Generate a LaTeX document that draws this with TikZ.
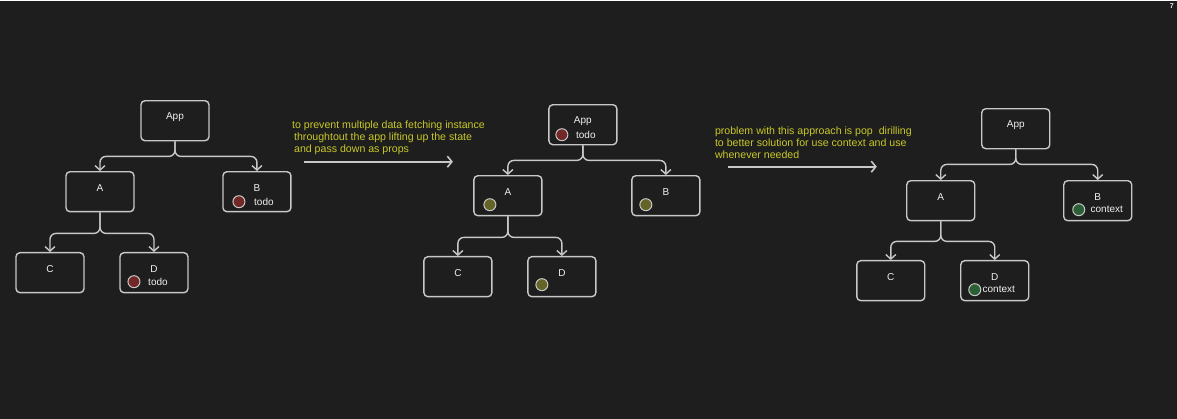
\documentclass[tikz,border=0pt]{standalone}
\usepackage{fontspec}
\setmainfont{Liberation Sans}
\usetikzlibrary{arrows.meta}
\usetikzlibrary{calc}
\definecolor{bg}{RGB}{30,30,30}
\definecolor{edge}{RGB}{200,200,200}
\definecolor{ink}{RGB}{240,240,240}
\definecolor{note}{RGB}{200,200,40}
\definecolor{todored}{RGB}{115,40,40}
\definecolor{olive}{RGB}{100,100,40}
\definecolor{ctxgreen}{RGB}{45,95,55}
\tikzstyle{line} = [draw=edge, line width=1.4pt, rounded corners=6pt, -{Straight Barb[length=4.5pt,width=10pt]}]

\begin{document}
\begin{tikzpicture}[x=1pt, y=-1pt,
		box/.style = {draw=edge, fill=bg, line width=1.4pt,
			rounded corners=4pt, minimum width=68pt, minimum height=40pt},
		lbl/.style = {text=ink, font=\fontsize{10}{12}\selectfont, inner sep=0pt},
		dot/.style = {circle, draw=edge, line width=1pt, minimum size=12pt, inner sep=0pt},
		remark/.style = {text=note, font=\fontsize{10.6}{12}\selectfont, align=left, inner sep=0pt},
		move/.style = {draw=edge, line width=1.6pt, -{Straight Barb[length=4.5pt,width=11pt]}}]
	
	% background
	\fill[bg] (0,0) rectangle (1177,418);
	\node[text=ink, font=\bfseries\fontsize{7}{8}\selectfont] at (1172,5) {7};
	
	% Tree 1: state in the leaves
	\node[box] (app1) at (175,120) {};
	\node[box] (a1) at (100,191) {};
	\node[box] (b1) at (257,191) {};
	\node[box] (c1) at (50,272) {};
	\node[box] (d1) at (154,272) {};
	
	\node[lbl] at ($(app1)+(0,-4)$) {App};
	\node[lbl] at ($(a1)+(0,-4)$) {A};
	\node[lbl] at ($(b1)+(0,-4)$) {B};
	\node[lbl] at ($(c1)+(0,-4)$) {C};
	\node[lbl] at ($(d1)+(0,-4)$) {D};
	\node[dot, fill=todored] (b1dot) at ($(b1)+(-18,10)$) {};
	\node[lbl] at ($(b1)+(7,10)$) {todo};
	\node[dot, fill=todored] (d1dot) at ($(d1)+(-20,9)$) {};
	\node[lbl] at ($(d1)+(4,9)$) {todo};
	
	\draw[line] (app1.south) -- ++(0,15) -| (a1.north);
	\draw[line] (app1.south) -- ++(0,15) -| (b1.north);
	\draw[line] (a1.south) -- ++(0,21) -| (c1.north);
	\draw[line] (a1.south) -- ++(0,21) -| (d1.north);
	
	% first step
	\node[remark, anchor=west] (note1) at (292,137) {to prevent multiple data fetching instance\\
		\hspace{2pt}throughtout the app lifting up the state\\
		\hspace{2pt}and pass down as props};
	\coordinate (go1) at (304,161);
	\coordinate (to1) at (453,161);
	\draw[move] (go1) -- (to1);
	
	% Tree 2: state lifted up to App
	\node[box] (app2) at (583,124) {};
	\node[box] (a2) at (508,195) {};
	\node[box] (b2) at (666,195) {};
	\node[box] (c2) at (458,276) {};
	\node[box] (d2) at (562,276) {};
	
	\node[lbl] at ($(app2)+(0,-4)$) {App};
	\node[lbl] at ($(a2)+(0,-4)$) {A};
	\node[lbl] at ($(b2)+(0,-4)$) {B};
	\node[lbl] at ($(c2)+(0,-4)$) {C};
	\node[lbl] at ($(d2)+(0,-4)$) {D};
	\node[dot, fill=todored] (app2dot) at ($(app2)+(-21,10)$) {};
	\node[lbl] at ($(app2)+(3,10)$) {todo};
	\node[dot, fill=olive] (a2dot) at ($(a2)+(-18,9)$) {};
	\node[dot, fill=olive] (b2dot) at ($(b2)+(-20,9)$) {};
	\node[dot, fill=olive] (d2dot) at ($(d2)+(-20,8)$) {};
	
	\draw[line] (app2.south) -- ++(0,15) -| (a2.north);
	\draw[line] (app2.south) -- ++(0,15) -| (b2.north);
	\draw[line] (a2.south) -- ++(0,21) -| (c2.north);
	\draw[line] (a2.south) -- ++(0,21) -| (d2.north);
	
	% second step
	\node[remark, anchor=west] (note2) at (715,142) {problem with this approach is pop\ \ dirilling\\
		to better solution for use context and use\\
		whenever needed};
	\coordinate (go2) at (728,166);
	\coordinate (to2) at (877,166);
	\draw[move] (go2) -- (to2);
	
	% Tree 3: context
	\node[box] (app3) at (1016,128) {};
	\node[box] (a3) at (941,200) {};
	\node[box] (b3) at (1098,200) {};
	\node[box] (c3) at (891,280) {};
	\node[box] (d3) at (995,280) {};
	
	\node[lbl] at ($(app3)+(0,-4)$) {App};
	\node[lbl] at ($(a3)+(0,-4)$) {A};
	\node[lbl] at ($(b3)+(0,-4)$) {B};
	\node[lbl] at ($(c3)+(0,-4)$) {C};
	\node[lbl] at ($(d3)+(0,-4)$) {D};
	\node[dot, fill=ctxgreen] (b3dot) at ($(b3)+(-19,9)$) {};
	\node[lbl] at ($(b3)+(9,9)$) {context};
	\node[dot, fill=ctxgreen] (d3dot) at ($(d3)+(-20,9)$) {};
	\node[lbl] at ($(d3)+(4,9)$) {context};
	
	\draw[line] (app3.south) -- ++(0,15) -| (a3.north);
	\draw[line] (app3.south) -- ++(0,15) -| (b3.north);
	\draw[line] (a3.south) -- ++(0,20) -| (c3.north);
	\draw[line] (a3.south) -- ++(0,20) -| (d3.north);
	
\end{tikzpicture}
\end{document}
